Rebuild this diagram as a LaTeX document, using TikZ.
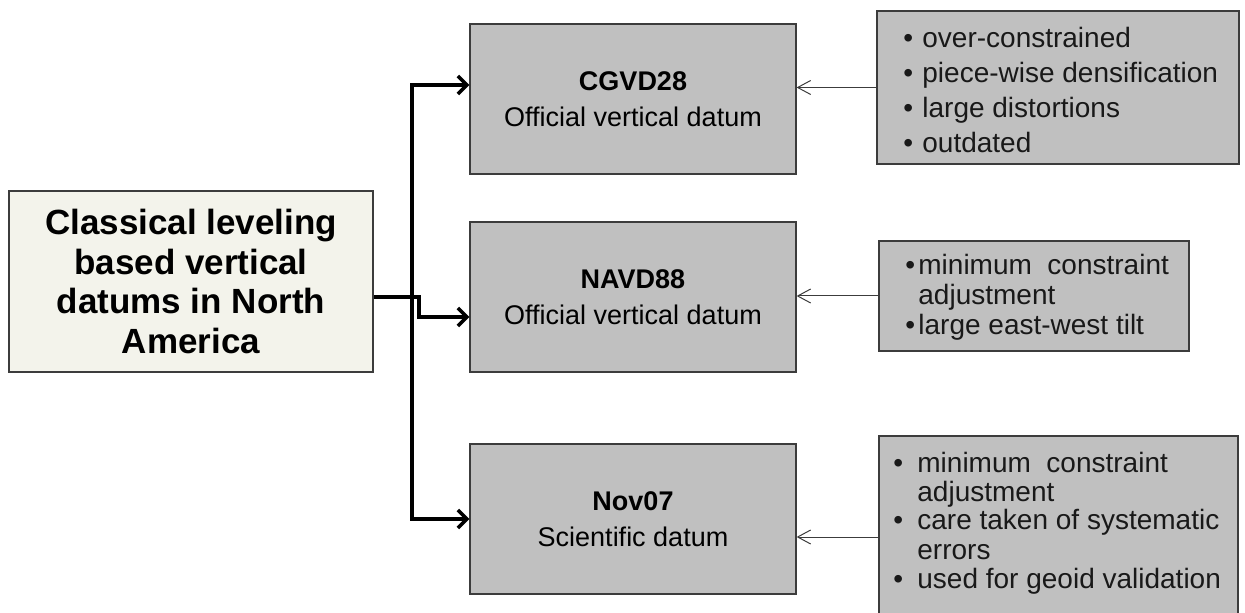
\documentclass[tikz,border=0pt]{standalone}
\usepackage{fontspec}
\setmainfont{Liberation Sans}
\usetikzlibrary{arrows.meta}
\definecolor{boxgray}{RGB}{192,192,192}
\definecolor{cream}{RGB}{243,243,235}
\definecolor{edgegray}{RGB}{60,60,60}
\newcommand{\bul}[1]{\makebox[#1][l]{\textbullet}}
\tikzset{
  graybox/.style={draw=edgegray, line width=0.6pt, fill=boxgray, inner sep=0pt},
  datumbox/.style={graybox, minimum width=163pt, minimum height=75pt, align=center,
    font={\fontsize{13.5}{18}\selectfont}},
  bigline/.style={line width=1.8pt, line join=miter},
  bigarrow/.style={bigline, -{Straight Barb[length=4.5pt,width=9pt]}},
  thinarrow/.style={draw=edgegray, line width=0.5pt, -{Straight Barb[length=6.5pt,width=7pt,line width=0.5pt]}},
  listtext/.style={anchor=base west, align=left, inner sep=0pt, text=black!90}
}
\begin{document}
\begin{tikzpicture}[x=0.5pt, y=-0.5pt]
\useasboundingbox (0,0) rectangle (1245,613);
\clip (0,0) rectangle (1245,613);

% source box
\node[draw=edgegray, line width=0.6pt, fill=cream, minimum width=182pt, minimum height=90.5pt,
      align=center, font={\fontsize{17.5}{19.75}\selectfont\bfseries}]
  (L) at (191,281.5) {Classical leveling\\based vertical\\datums in North\\America};

% datum boxes
\node[datumbox] (c1) at (633,99)  {\textbf{CGVD28}\\Official vertical datum};
\node[datumbox] (c2) at (633,297) {\textbf{NAVD88}\\Official vertical datum};
\node[datumbox] (c3) at (633,519) {\textbf{Nov07}\\Scientific datum};

% property boxes
\node[graybox, minimum width=181pt, minimum height=76.5pt] (r1) at (1058,87.5) {};
\node[graybox, minimum width=155pt, minimum height=55pt]   (r2) at (1034,296) {};
\node[graybox, minimum width=179.5pt, minimum height=101pt] (r3) at (1058.5,537) {};

% lists (anchored on the baseline of their last line)
\node[listtext, font={\fontsize{14}{17.5}\selectfont}] (r1t) at (903,153)
  {\bul{9.5pt}over-constrained\\
   \bul{9.5pt}piece-wise densification\\
   \bul{9.5pt}large distortions\\
   \bul{9.5pt}outdated};

\node[listtext, font={\fontsize{14}{15}\selectfont}] (r2t) at (905,335)
  {\bul{6.5pt}minimum~~constraint\\
   \hspace*{6.5pt}adjustment\\
   \bul{6.5pt}large east-west tilt};

\node[listtext, font={\fontsize{14}{14.5}\selectfont}] (r3t) at (893,588)
  {\bul{12pt}minimum~~constraint\\
   \hspace*{12pt}adjustment\\
   \bul{12pt}care taken of systematic\\
   \hspace*{12pt}errors\\
   \bul{12pt}used for geoid validation};

% branching connectors
\coordinate (j)   at (412,297);
\coordinate (top) at (412,85);
\coordinate (bot) at (412,519);
\coordinate (k1)  at (419,297);
\coordinate (k2)  at (419,317);

\draw[bigline] (L.east |- j) -- (j);
\draw[bigarrow] (j) -- (top) -- (top -| c1.west);
\draw[bigarrow] (j) -- (bot) -- (bot -| c3.west);
\draw[bigarrow] (j) -- (k1) -- (k2) -- (k2 -| c2.west);

% property links
\draw[thinarrow] (r1.west) -- (r1.west -| c1.east);
\draw[thinarrow] (r2.west) -- (r2.west -| c2.east);
\draw[thinarrow] (r3.west) -- (r3.west -| c3.east);
\end{tikzpicture}
\end{document}
